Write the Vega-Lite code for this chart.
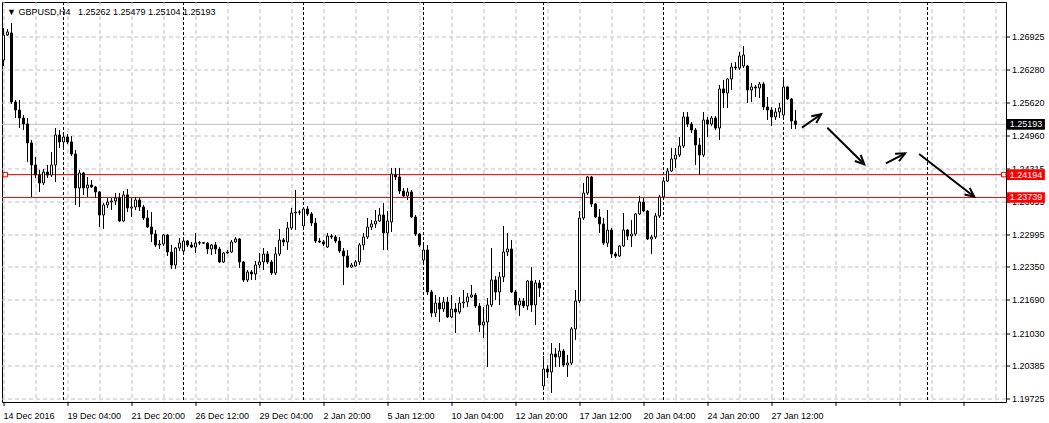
{
  "$schema": "https://vega.github.io/schema/vega-lite/v6.json",
  "width": 1004,
  "height": 400,
  "autosize": {"type": "none"},
  "padding": {"left": 2, "top": 2, "right": 43, "bottom": 21},
  "background": "white",
  "config": {
    "view": {"stroke": "black", "strokeWidth": 1},
    "font": "Liberation Sans",
    "axis": {
      "translate": 0,
      "grid": true, "gridColor": "#c0c0c0", "gridDash": [4, 3], "gridWidth": 1,
      "domain": false,
      "labelPadding": 2, "labelFont": "Liberation Sans", "labelFontSize": 9, "labelColor": "black",
      "labelFlush": false, "labelBound": false, "labelOverlap": false
    }
  },
  "resolve": {"axis": {"x": "independent", "y": "independent"}},
  "title": {
    "text": "▼ GBPUSD,H4\u00a0\u00a0 1.25262 1.25479 1.25104 1.25193",
    "anchor": "start",
    "frame": "group",
    "orient": "top",
    "offset": -19,
    "dx": 5,
    "baseline": "middle",
    "font": "Liberation Sans",
    "fontSize": 9,
    "fontWeight": "normal",
    "color": "black"
  },
  "datasets": {
    "bars": [
      {"i":-15,"o":1.26474,"h":1.27110,"l":1.26354,"c":1.26971},
      {"i":-14,"o":1.26971,"h":1.27090,"l":1.26951,"c":1.27031},
      {"i":-13,"o":1.27011,"h":1.27210,"l":1.25598,"c":1.25638},
      {"i":-12,"o":1.25638,"h":1.25678,"l":1.25320,"c":1.25479},
      {"i":-11,"o":1.25479,"h":1.25678,"l":1.25121,"c":1.25320},
      {"i":-10,"o":1.25320,"h":1.25380,"l":1.25081,"c":1.25201},
      {"i":-9,"o":1.25201,"h":1.25320,"l":1.24445,"c":1.24823},
      {"i":-8,"o":1.24823,"h":1.24882,"l":1.23749,"c":1.24385},
      {"i":-7,"o":1.24385,"h":1.24544,"l":1.24127,"c":1.24186},
      {"i":-6,"o":1.24186,"h":1.24286,"l":1.23848,"c":1.24027},
      {"i":-5,"o":1.24027,"h":1.24306,"l":1.23987,"c":1.24246},
      {"i":-4,"o":1.24246,"h":1.24385,"l":1.24127,"c":1.24186},
      {"i":-3,"o":1.24186,"h":1.24644,"l":1.24147,"c":1.24385},
      {"i":-2,"o":1.24385,"h":1.25121,"l":1.24047,"c":1.24982},
      {"i":-1,"o":1.24982,"h":1.25081,"l":1.24723,"c":1.24843},
      {"i":0,"o":1.24843,"h":1.25022,"l":1.24703,"c":1.24942},
      {"i":1,"o":1.24942,"h":1.25002,"l":1.24803,"c":1.24843},
      {"i":2,"o":1.24843,"h":1.24962,"l":1.24564,"c":1.24604},
      {"i":3,"o":1.24604,"h":1.24684,"l":1.23590,"c":1.23928},
      {"i":4,"o":1.23928,"h":1.24286,"l":1.23550,"c":1.24226},
      {"i":5,"o":1.24226,"h":1.24246,"l":1.23789,"c":1.23928},
      {"i":6,"o":1.23928,"h":1.24147,"l":1.23749,"c":1.23987},
      {"i":7,"o":1.23987,"h":1.24087,"l":1.23928,"c":1.23948},
      {"i":8,"o":1.23948,"h":1.23968,"l":1.23729,"c":1.23848},
      {"i":9,"o":1.23848,"h":1.23868,"l":1.23152,"c":1.23391},
      {"i":10,"o":1.23391,"h":1.23629,"l":1.23112,"c":1.23590},
      {"i":11,"o":1.23590,"h":1.23729,"l":1.23530,"c":1.23649},
      {"i":12,"o":1.23649,"h":1.23729,"l":1.23490,"c":1.23669},
      {"i":13,"o":1.23669,"h":1.23828,"l":1.23590,"c":1.23729},
      {"i":14,"o":1.23729,"h":1.23828,"l":1.23252,"c":1.23271},
      {"i":15,"o":1.23271,"h":1.23868,"l":1.23252,"c":1.23789},
      {"i":16,"o":1.23789,"h":1.23908,"l":1.23450,"c":1.23530},
      {"i":17,"o":1.23530,"h":1.23729,"l":1.23351,"c":1.23550},
      {"i":18,"o":1.23550,"h":1.23749,"l":1.23490,"c":1.23689},
      {"i":19,"o":1.23689,"h":1.23729,"l":1.23470,"c":1.23550},
      {"i":20,"o":1.23550,"h":1.23590,"l":1.23291,"c":1.23331},
      {"i":21,"o":1.23331,"h":1.23490,"l":1.23132,"c":1.23152},
      {"i":22,"o":1.23152,"h":1.23450,"l":1.22854,"c":1.23013},
      {"i":23,"o":1.23013,"h":1.23092,"l":1.22754,"c":1.22794},
      {"i":24,"o":1.22794,"h":1.22893,"l":1.22714,"c":1.22814},
      {"i":25,"o":1.22814,"h":1.23013,"l":1.22774,"c":1.22993},
      {"i":26,"o":1.22993,"h":1.23013,"l":1.22575,"c":1.22655},
      {"i":27,"o":1.22655,"h":1.22794,"l":1.22317,"c":1.22396},
      {"i":28,"o":1.22396,"h":1.22754,"l":1.22317,"c":1.22734},
      {"i":29,"o":1.22734,"h":1.22933,"l":1.22675,"c":1.22834},
      {"i":30,"o":1.22675,"h":1.22893,"l":1.22655,"c":1.22873},
      {"i":31,"o":1.22873,"h":1.22893,"l":1.22754,"c":1.22794},
      {"i":32,"o":1.22794,"h":1.22854,"l":1.22734,"c":1.22754},
      {"i":33,"o":1.22754,"h":1.23033,"l":1.22635,"c":1.22834},
      {"i":34,"o":1.22834,"h":1.22873,"l":1.22794,"c":1.22840},
      {"i":35,"o":1.22840,"h":1.22854,"l":1.22814,"c":1.22830},
      {"i":36,"o":1.22830,"h":1.22854,"l":1.22615,"c":1.22714},
      {"i":37,"o":1.22714,"h":1.22814,"l":1.22595,"c":1.22794},
      {"i":38,"o":1.22794,"h":1.22854,"l":1.22615,"c":1.22714},
      {"i":39,"o":1.22714,"h":1.22754,"l":1.22436,"c":1.22456},
      {"i":40,"o":1.22456,"h":1.22655,"l":1.22436,"c":1.22635},
      {"i":41,"o":1.22635,"h":1.22694,"l":1.22625,"c":1.22655},
      {"i":42,"o":1.22655,"h":1.22893,"l":1.22635,"c":1.22854},
      {"i":43,"o":1.22854,"h":1.22953,"l":1.22834,"c":1.22913},
      {"i":44,"o":1.22913,"h":1.22933,"l":1.22336,"c":1.22456},
      {"i":45,"o":1.22456,"h":1.22476,"l":1.22058,"c":1.22098},
      {"i":46,"o":1.22098,"h":1.22297,"l":1.22058,"c":1.22257},
      {"i":47,"o":1.22257,"h":1.22297,"l":1.22098,"c":1.22217},
      {"i":48,"o":1.22217,"h":1.22476,"l":1.22098,"c":1.22396},
      {"i":49,"o":1.22396,"h":1.22635,"l":1.22336,"c":1.22456},
      {"i":50,"o":1.22456,"h":1.22734,"l":1.22297,"c":1.22615},
      {"i":51,"o":1.22615,"h":1.22675,"l":1.22416,"c":1.22456},
      {"i":52,"o":1.22456,"h":1.22496,"l":1.22197,"c":1.22237},
      {"i":53,"o":1.22237,"h":1.22754,"l":1.22197,"c":1.22615},
      {"i":54,"o":1.22615,"h":1.23112,"l":1.22575,"c":1.22893},
      {"i":55,"o":1.22893,"h":1.22933,"l":1.22774,"c":1.22854},
      {"i":56,"o":1.22854,"h":1.23252,"l":1.22694,"c":1.23132},
      {"i":57,"o":1.23132,"h":1.23530,"l":1.23092,"c":1.23431},
      {"i":58,"o":1.23431,"h":1.23888,"l":1.23092,"c":1.23450},
      {"i":59,"o":1.23450,"h":1.23490,"l":1.23391,"c":1.23445},
      {"i":60,"o":1.23172,"h":1.23550,"l":1.23092,"c":1.23510},
      {"i":61,"o":1.23510,"h":1.23570,"l":1.23371,"c":1.23411},
      {"i":62,"o":1.23411,"h":1.23450,"l":1.23172,"c":1.23232},
      {"i":63,"o":1.23232,"h":1.23331,"l":1.22834,"c":1.22873},
      {"i":64,"o":1.22873,"h":1.22933,"l":1.22834,"c":1.22854},
      {"i":65,"o":1.22854,"h":1.22893,"l":1.22774,"c":1.22814},
      {"i":66,"o":1.22754,"h":1.23033,"l":1.22734,"c":1.22973},
      {"i":67,"o":1.22973,"h":1.23013,"l":1.22913,"c":1.22953},
      {"i":68,"o":1.22953,"h":1.22993,"l":1.22834,"c":1.22873},
      {"i":69,"o":1.22873,"h":1.22953,"l":1.22635,"c":1.22675},
      {"i":70,"o":1.22675,"h":1.22734,"l":1.21998,"c":1.22575},
      {"i":71,"o":1.22575,"h":1.22694,"l":1.22336,"c":1.22356},
      {"i":72,"o":1.22356,"h":1.22436,"l":1.22336,"c":1.22396},
      {"i":73,"o":1.22376,"h":1.22496,"l":1.22356,"c":1.22456},
      {"i":74,"o":1.22456,"h":1.22834,"l":1.22396,"c":1.22794},
      {"i":75,"o":1.22794,"h":1.23033,"l":1.22694,"c":1.22953},
      {"i":76,"o":1.22953,"h":1.23331,"l":1.22913,"c":1.23152},
      {"i":77,"o":1.23152,"h":1.23291,"l":1.23092,"c":1.23212},
      {"i":78,"o":1.23212,"h":1.23490,"l":1.23132,"c":1.23271},
      {"i":79,"o":1.23271,"h":1.23530,"l":1.23252,"c":1.23391},
      {"i":80,"o":1.23391,"h":1.23629,"l":1.22694,"c":1.23033},
      {"i":81,"o":1.23033,"h":1.23470,"l":1.22694,"c":1.23271},
      {"i":82,"o":1.23252,"h":1.24326,"l":1.23053,"c":1.24206},
      {"i":83,"o":1.24186,"h":1.24326,"l":1.24087,"c":1.24147},
      {"i":84,"o":1.24147,"h":1.24326,"l":1.23808,"c":1.23868},
      {"i":85,"o":1.23868,"h":1.23928,"l":1.23749,"c":1.23769},
      {"i":86,"o":1.23769,"h":1.23928,"l":1.23689,"c":1.23848},
      {"i":87,"o":1.23848,"h":1.23888,"l":1.23331,"c":1.23351},
      {"i":88,"o":1.23351,"h":1.23391,"l":1.22973,"c":1.23013},
      {"i":89,"o":1.23013,"h":1.23033,"l":1.22754,"c":1.22794},
      {"i":90,"o":1.22496,"h":1.22794,"l":1.22396,"c":1.22694},
      {"i":91,"o":1.22694,"h":1.22794,"l":1.21800,"c":1.21859},
      {"i":92,"o":1.21859,"h":1.21899,"l":1.21362,"c":1.21441},
      {"i":93,"o":1.21441,"h":1.21800,"l":1.21362,"c":1.21640},
      {"i":94,"o":1.21640,"h":1.21760,"l":1.21263,"c":1.21521},
      {"i":95,"o":1.21521,"h":1.21760,"l":1.21461,"c":1.21660},
      {"i":96,"o":1.21660,"h":1.21760,"l":1.21342,"c":1.21362},
      {"i":97,"o":1.21362,"h":1.21800,"l":1.21342,"c":1.21521},
      {"i":98,"o":1.21521,"h":1.21640,"l":1.21044,"c":1.21461},
      {"i":99,"o":1.21461,"h":1.21760,"l":1.21422,"c":1.21640},
      {"i":100,"o":1.21640,"h":1.21899,"l":1.21541,"c":1.21660},
      {"i":101,"o":1.21660,"h":1.21839,"l":1.21561,"c":1.21760},
      {"i":102,"o":1.21760,"h":1.21998,"l":1.21740,"c":1.21800},
      {"i":103,"o":1.21800,"h":1.21839,"l":1.21541,"c":1.21581},
      {"i":104,"o":1.21581,"h":1.21640,"l":1.21064,"c":1.21203},
      {"i":105,"o":1.21203,"h":1.21561,"l":1.20944,"c":1.21263},
      {"i":106,"o":1.21263,"h":1.21740,"l":1.20367,"c":1.21601},
      {"i":107,"o":1.21601,"h":1.22734,"l":1.21561,"c":1.22098},
      {"i":108,"o":1.22098,"h":1.22177,"l":1.21700,"c":1.21859},
      {"i":109,"o":1.21859,"h":1.22257,"l":1.21601,"c":1.22158},
      {"i":110,"o":1.22158,"h":1.23172,"l":1.22058,"c":1.22655},
      {"i":111,"o":1.22655,"h":1.23033,"l":1.22575,"c":1.22714},
      {"i":112,"o":1.22714,"h":1.22893,"l":1.21839,"c":1.21859},
      {"i":113,"o":1.21859,"h":1.21899,"l":1.21501,"c":1.21601},
      {"i":114,"o":1.21601,"h":1.21740,"l":1.21382,"c":1.21680},
      {"i":115,"o":1.21680,"h":1.21740,"l":1.21541,"c":1.21581},
      {"i":116,"o":1.21581,"h":1.22098,"l":1.21501,"c":1.22078},
      {"i":117,"o":1.22078,"h":1.22356,"l":1.21461,"c":1.21601},
      {"i":118,"o":1.21601,"h":1.22098,"l":1.21203,"c":1.22038},
      {"i":119,"o":1.22038,"h":1.22098,"l":1.21760,"c":1.21939},
      {"i":120,"o":1.19989,"h":1.20586,"l":1.19910,"c":1.20327},
      {"i":121,"o":1.20327,"h":1.20407,"l":1.20148,"c":1.20268},
      {"i":122,"o":1.20268,"h":1.20845,"l":1.19850,"c":1.20626},
      {"i":123,"o":1.20626,"h":1.20745,"l":1.20367,"c":1.20566},
      {"i":124,"o":1.20566,"h":1.20845,"l":1.20367,"c":1.20686},
      {"i":125,"o":1.20686,"h":1.20725,"l":1.20367,"c":1.20407},
      {"i":126,"o":1.20407,"h":1.20606,"l":1.20168,"c":1.20447},
      {"i":127,"o":1.20447,"h":1.21163,"l":1.20407,"c":1.21124},
      {"i":128,"o":1.21124,"h":1.21899,"l":1.20904,"c":1.21680},
      {"i":129,"o":1.21680,"h":1.23470,"l":1.21640,"c":1.23331},
      {"i":130,"o":1.23331,"h":1.24027,"l":1.23291,"c":1.23828},
      {"i":131,"o":1.23828,"h":1.24166,"l":1.23789,"c":1.24147},
      {"i":132,"o":1.24147,"h":1.24166,"l":1.23550,"c":1.23610},
      {"i":133,"o":1.23610,"h":1.23630,"l":1.23331,"c":1.23351},
      {"i":134,"o":1.23351,"h":1.23510,"l":1.23033,"c":1.23212},
      {"i":135,"o":1.23212,"h":1.23331,"l":1.22794,"c":1.22834},
      {"i":136,"o":1.22834,"h":1.23490,"l":1.22754,"c":1.23092},
      {"i":137,"o":1.23092,"h":1.23132,"l":1.22535,"c":1.22615},
      {"i":138,"o":1.22615,"h":1.22655,"l":1.22535,"c":1.22575},
      {"i":139,"o":1.22575,"h":1.22794,"l":1.22555,"c":1.22774},
      {"i":140,"o":1.22774,"h":1.23431,"l":1.22754,"c":1.23092},
      {"i":141,"o":1.23092,"h":1.23112,"l":1.22893,"c":1.22973},
      {"i":142,"o":1.22973,"h":1.23291,"l":1.22754,"c":1.23013},
      {"i":143,"o":1.23013,"h":1.23431,"l":1.22973,"c":1.23411},
      {"i":144,"o":1.23411,"h":1.23769,"l":1.23391,"c":1.23649},
      {"i":145,"o":1.23649,"h":1.23729,"l":1.23450,"c":1.23470},
      {"i":146,"o":1.23470,"h":1.23490,"l":1.22893,"c":1.22913},
      {"i":147,"o":1.22913,"h":1.22993,"l":1.22615,"c":1.22953},
      {"i":148,"o":1.22953,"h":1.23431,"l":1.22913,"c":1.23371},
      {"i":149,"o":1.23371,"h":1.23789,"l":1.23331,"c":1.23749},
      {"i":150,"o":1.23749,"h":1.24127,"l":1.23709,"c":1.24067},
      {"i":151,"o":1.24067,"h":1.24326,"l":1.24047,"c":1.24266},
      {"i":152,"o":1.24266,"h":1.24723,"l":1.24246,"c":1.24505},
      {"i":153,"o":1.24505,"h":1.24723,"l":1.24326,"c":1.24584},
      {"i":154,"o":1.24584,"h":1.24942,"l":1.24544,"c":1.24763},
      {"i":155,"o":1.24763,"h":1.25439,"l":1.24723,"c":1.25340},
      {"i":156,"o":1.25340,"h":1.25439,"l":1.25141,"c":1.25201},
      {"i":157,"o":1.25201,"h":1.25240,"l":1.25022,"c":1.25081},
      {"i":158,"o":1.25081,"h":1.25121,"l":1.24385,"c":1.24783},
      {"i":159,"o":1.24783,"h":1.24922,"l":1.24186,"c":1.24584},
      {"i":160,"o":1.24584,"h":1.25439,"l":1.24544,"c":1.25280},
      {"i":161,"o":1.25280,"h":1.25340,"l":1.24942,"c":1.25201},
      {"i":162,"o":1.25201,"h":1.25360,"l":1.25161,"c":1.25320},
      {"i":163,"o":1.25320,"h":1.25360,"l":1.25081,"c":1.25121},
      {"i":164,"o":1.25121,"h":1.25976,"l":1.24882,"c":1.25897},
      {"i":165,"o":1.25897,"h":1.26076,"l":1.25519,"c":1.25817},
      {"i":166,"o":1.25817,"h":1.26116,"l":1.25519,"c":1.26096},
      {"i":167,"o":1.26096,"h":1.26414,"l":1.25877,"c":1.26334},
      {"i":168,"o":1.26334,"h":1.26434,"l":1.26275,"c":1.26314},
      {"i":169,"o":1.26314,"h":1.26633,"l":1.26275,"c":1.26553},
      {"i":170,"o":1.26354,"h":1.26752,"l":1.26314,"c":1.26573},
      {"i":171,"o":1.26354,"h":1.26374,"l":1.25618,"c":1.25877},
      {"i":172,"o":1.25877,"h":1.26016,"l":1.25638,"c":1.25937},
      {"i":173,"o":1.25937,"h":1.25976,"l":1.25738,"c":1.25917},
      {"i":174,"o":1.25917,"h":1.26036,"l":1.25718,"c":1.25996},
      {"i":175,"o":1.25996,"h":1.26036,"l":1.25479,"c":1.25539},
      {"i":176,"o":1.25539,"h":1.25738,"l":1.25280,"c":1.25479},
      {"i":177,"o":1.25479,"h":1.25539,"l":1.25161,"c":1.25340},
      {"i":178,"o":1.25340,"h":1.25519,"l":1.25280,"c":1.25439},
      {"i":179,"o":1.25439,"h":1.25618,"l":1.25320,"c":1.25519},
      {"i":180,"o":1.25380,"h":1.26076,"l":1.25340,"c":1.25937},
      {"i":181,"o":1.25937,"h":1.25956,"l":1.25678,"c":1.25698},
      {"i":182,"o":1.25698,"h":1.25718,"l":1.25101,"c":1.25260},
      {"i":183,"o":1.25262,"h":1.25479,"l":1.25104,"c":1.25193}
    ],
    "seps": [{"i":0},{"i":30},{"i":60},{"i":90},{"i":120},{"i":150},{"i":180},{"i":216}],
    "levels": [
      {"p":1.25193,"kind":"price"},
      {"p":1.24194,"kind":"line"},
      {"p":1.23739,"kind":"line"}
    ],
    "handles": [{"i":-14.55,"p":1.24194},{"i":235.05,"p":1.24194}],
    "arrows": [
      {"i":184.6,"p":1.25127,"i2":189.4,"p2":1.25394,"heading":53.6},
      {"i":190.95,"p":1.25127,"i2":200.2,"p2":1.24399,"heading":134.2},
      {"i":205.6,"p":1.24419,"i2":210.4,"p2":1.24618,"heading":62.2},
      {"i":213.9,"p":1.24604,"i2":227.7,"p2":1.23752,"heading":128.0}
    ]
  },
  "layer": [
    {
      "data": {"name": "bars"},
      "mark": {"type": "rule", "color": "black", "strokeWidth": 1},
      "encoding": {
        "x": {
          "field": "i", "type": "quantitative", "title": null,
          "scale": {"domain": [-15.375, 235.625], "nice": false, "zero": false, "padding": 0},
          "axis": {
            "orient": "bottom",
            "title": null,
            "values": [-15,-7,1,9,17,25,33,41,49,57,65,73,81,89,97,105,113,121,129,137,145,153,161,169,177,185,193,201,209,217,225,233],
            "ticks": true,
            "tickColor": {"condition": {"test": "(datum.value + 15) % 16 == 0", "value": "black"}, "value": "white"},
            "tickOpacity": {"condition": {"test": "(datum.value + 15) % 16 == 0", "value": 1}, "value": 0},
            "tickSize": {"condition": {"test": "(datum.value + 15) % 16 == 0", "value": 4}, "value": 0},
            "labelExpr": "datum.value == -15 ? '14 Dec 2016' : datum.value == 1 ? '19 Dec 04:00' : datum.value == 17 ? '21 Dec 20:00' : datum.value == 33 ? '26 Dec 12:00' : datum.value == 49 ? '29 Dec 04:00' : datum.value == 65 ? '2 Jan 20:00' : datum.value == 81 ? '5 Jan 12:00' : datum.value == 97 ? '10 Jan 04:00' : datum.value == 113 ? '12 Jan 20:00' : datum.value == 129 ? '17 Jan 12:00' : datum.value == 145 ? '20 Jan 04:00' : datum.value == 161 ? '24 Jan 20:00' : datum.value == 177 ? '27 Jan 12:00' : ''",
            "labelAlign": "left", "labelBaseline": "top", "labelPadding": 6,
            "labelOverlap": false
          }
        },
        "y": {
          "field": "l", "type": "quantitative", "title": null,
          "scale": {"domain": [1.19671, 1.27627], "nice": false, "zero": false, "padding": 0},
          "axis": {
            "orient": "right",
            "title": null,
            "values": [1.19725, 1.20385, 1.2103, 1.2169, 1.2235, 1.22995, 1.23655, 1.24315, 1.2496, 1.2562, 1.2628, 1.26925],
            "format": ".5f",
            "ticks": true,
            "tickSize": 4,
            "tickColor": "black",
            "labelAlign": "left", "labelBaseline": "middle",
            "labelOverlap": false
          }
        },
        "y2": {"field": "h"}
      }
    },
    {
      "data": {"name": "seps"},
      "mark": {"type": "rule", "color": "black", "strokeWidth": 1, "strokeDash": [3, 2]},
      "encoding": {
        "x": {"field": "i", "type": "quantitative", "axis": null}
      }
    },
    {
      "data": {"name": "levels"},
      "mark": {"type": "rule", "strokeWidth": 1},
      "encoding": {
        "y": {"field": "p", "type": "quantitative", "axis": null},
        "color": {"condition": {"test": "datum.kind == 'price'", "value": "#c0c0c0"}, "value": "#ff0000"}
      }
    },
    {
      "data": {"name": "bars"},
      "mark": {"type": "rule", "color": "black", "strokeWidth": 1},
      "encoding": {
        "x": {"field": "i", "type": "quantitative", "axis": null},
        "y": {"field": "l", "type": "quantitative", "axis": null},
        "y2": {"field": "h"}
      }
    },
    {
      "data": {"name": "bars"},
      "mark": {"type": "bar", "size": 2, "stroke": "black", "strokeWidth": 1},
      "encoding": {
        "x": {"field": "i", "type": "quantitative", "axis": null},
        "y": {"field": "o", "type": "quantitative", "axis": null},
        "y2": {"field": "c"},
        "fill": {"condition": {"test": "datum.c >= datum.o", "value": "white"}, "value": "black"}
      }
    },
    {
      "data": {"name": "arrows"},
      "mark": {"type": "rule", "color": "black", "strokeWidth": 2},
      "encoding": {
        "x": {"field": "i", "type": "quantitative", "axis": null},
        "x2": {"field": "i2"},
        "y": {"field": "p", "type": "quantitative", "axis": null},
        "y2": {"field": "p2"}
      }
    },
    {
      "data": {"name": "arrows"},
      "mark": {"type": "point", "shape": "M-0.42,0.91L0,0L0.42,0.91", "filled": false, "stroke": "black", "strokeWidth": 2, "size": 400, "opacity": 1},
      "encoding": {
        "x": {"field": "i2", "type": "quantitative", "axis": null},
        "y": {"field": "p2", "type": "quantitative", "axis": null},
        "angle": {"field": "heading", "type": "quantitative", "scale": null}
      }
    },
    {
      "data": {"name": "handles"},
      "mark": {"type": "point", "shape": "square", "filled": true, "fill": "white", "stroke": "#ff0000", "strokeWidth": 1, "size": 20, "opacity": 1},
      "encoding": {
        "x": {"field": "i", "type": "quantitative", "axis": null},
        "y": {"field": "p", "type": "quantitative", "axis": null}
      }
    },
    {
      "data": {"name": "levels"},
      "mark": {"type": "point", "shape": "M-1,-0.28L1,-0.28L1,0.28L-1,0.28Z", "filled": true, "size": 1444, "strokeWidth": 0, "opacity": 1},
      "encoding": {
        "x": {"datum": 240.6, "type": "quantitative", "axis": null},
        "y": {"field": "p", "type": "quantitative", "axis": null},
        "fill": {"condition": {"test": "datum.kind == 'price'", "value": "black"}, "value": "#ff0000"}
      }
    },
    {
      "data": {"name": "levels"},
      "mark": {"type": "text", "color": "white", "font": "Liberation Sans", "fontSize": 9, "align": "center", "baseline": "middle"},
      "encoding": {
        "x": {"datum": 240.6, "type": "quantitative", "axis": null},
        "y": {"field": "p", "type": "quantitative", "axis": null},
        "text": {"field": "p", "type": "quantitative", "format": ".5f"}
      }
    }
  ]
}
